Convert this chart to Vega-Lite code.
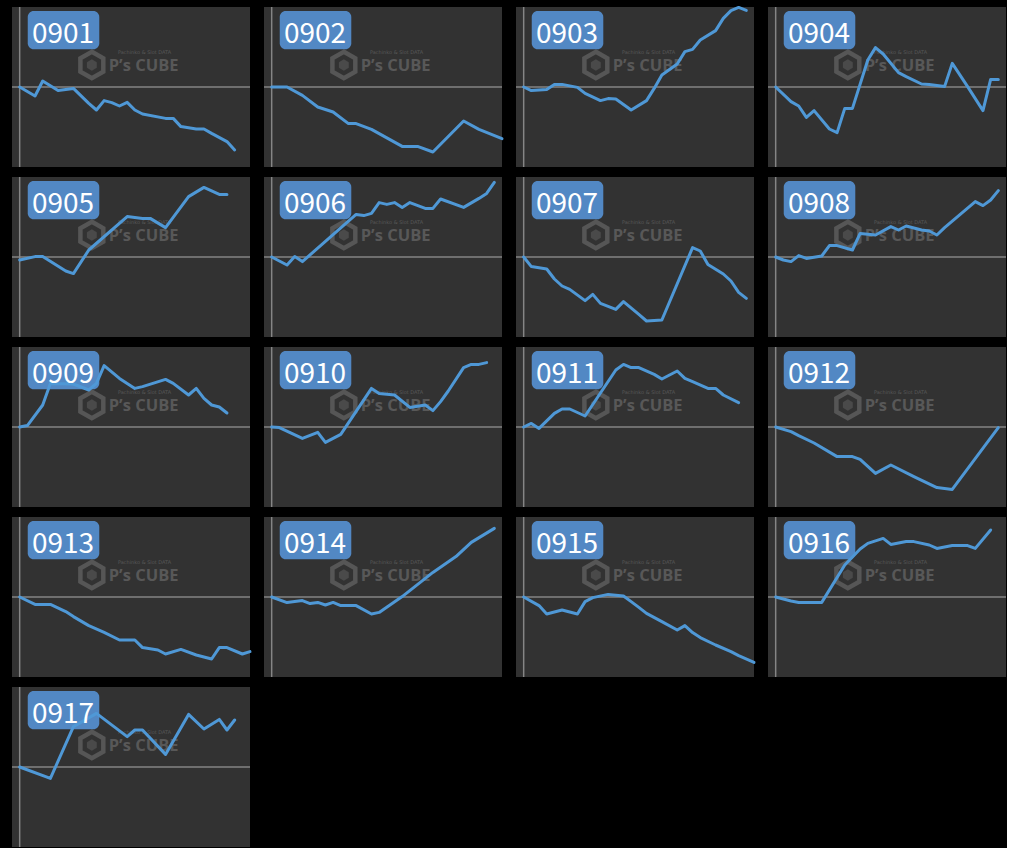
{
  "$schema": "https://vega.github.io/schema/vega-lite/v6.json",
  "background": "#000000",
  "padding": {"left": 11, "top": 4, "right": 0, "bottom": 0},
  "bounds": "flush",
  "datasets": {
    "series": [
      {"id":"0901","d":0,"v":0},{"id":"0901","d":2,"v":-450},{"id":"0901","d":3,"v":300},{"id":"0901","d":5,"v":-180},{"id":"0901","d":7,"v":-70},{"id":"0901","d":9,"v":-820},{"id":"0901","d":10,"v":-1150},{"id":"0901","d":11,"v":-680},{"id":"0901","d":12,"v":-780},{"id":"0901","d":13,"v":-950},{"id":"0901","d":14,"v":-770},{"id":"0901","d":15,"v":-1150},{"id":"0901","d":16,"v":-1350},{"id":"0901","d":19,"v":-1570},{"id":"0901","d":20,"v":-1570},{"id":"0901","d":21,"v":-1980},{"id":"0901","d":23,"v":-2100},{"id":"0901","d":24,"v":-2100},{"id":"0901","d":25,"v":-2320},{"id":"0901","d":27,"v":-2730},{"id":"0901","d":28,"v":-3150},
      {"id":"0902","d":0,"v":0},{"id":"0902","d":2,"v":0},{"id":"0902","d":4,"v":-420},{"id":"0902","d":6,"v":-1000},{"id":"0902","d":8,"v":-1250},{"id":"0902","d":10,"v":-1830},{"id":"0902","d":11,"v":-1830},{"id":"0902","d":13,"v":-2120},{"id":"0902","d":17,"v":-2970},{"id":"0902","d":19,"v":-2970},{"id":"0902","d":21,"v":-3250},{"id":"0902","d":25,"v":-1700},{"id":"0902","d":27,"v":-2120},{"id":"0902","d":30,"v":-2580},
      {"id":"0903","d":0,"v":0},{"id":"0903","d":1,"v":-180},{"id":"0903","d":3,"v":-120},{"id":"0903","d":4,"v":130},{"id":"0903","d":5,"v":130},{"id":"0903","d":7,"v":-20},{"id":"0903","d":8,"v":-320},{"id":"0903","d":10,"v":-680},{"id":"0903","d":11,"v":-580},{"id":"0903","d":12,"v":-600},{"id":"0903","d":14,"v":-1150},{"id":"0903","d":16,"v":-680},{"id":"0903","d":17,"v":-70},{"id":"0903","d":18,"v":600},{"id":"0903","d":20,"v":1150},{"id":"0903","d":21,"v":1770},{"id":"0903","d":22,"v":1880},{"id":"0903","d":23,"v":2350},{"id":"0903","d":25,"v":2820},{"id":"0903","d":26,"v":3430},{"id":"0903","d":27,"v":3820},{"id":"0903","d":28,"v":3980},{"id":"0903","d":29,"v":3830},
      {"id":"0904","d":0,"v":0},{"id":"0904","d":2,"v":-730},{"id":"0904","d":3,"v":-950},{"id":"0904","d":4,"v":-1520},{"id":"0904","d":5,"v":-1180},{"id":"0904","d":7,"v":-2100},{"id":"0904","d":8,"v":-2280},{"id":"0904","d":9,"v":-1070},{"id":"0904","d":10,"v":-1070},{"id":"0904","d":12,"v":1350},{"id":"0904","d":13,"v":1970},{"id":"0904","d":14,"v":1650},{"id":"0904","d":16,"v":720},{"id":"0904","d":17,"v":520},{"id":"0904","d":19,"v":150},{"id":"0904","d":20,"v":130},{"id":"0904","d":22,"v":20},{"id":"0904","d":23,"v":1180},{"id":"0904","d":25,"v":20},{"id":"0904","d":27,"v":-1180},{"id":"0904","d":28,"v":380},{"id":"0904","d":29,"v":380},
      {"id":"0905","d":0,"v":-150},{"id":"0905","d":2,"v":20},{"id":"0905","d":3,"v":20},{"id":"0905","d":6,"v":-700},{"id":"0905","d":7,"v":-830},{"id":"0905","d":9,"v":350},{"id":"0905","d":14,"v":2020},{"id":"0905","d":16,"v":1930},{"id":"0905","d":17,"v":1930},{"id":"0905","d":19,"v":1470},{"id":"0905","d":22,"v":3020},{"id":"0905","d":24,"v":3480},{"id":"0905","d":26,"v":3130},{"id":"0905","d":27,"v":3130},
      {"id":"0906","d":0,"v":0},{"id":"0906","d":2,"v":-400},{"id":"0906","d":3,"v":20},{"id":"0906","d":4,"v":-230},{"id":"0906","d":11,"v":2130},{"id":"0906","d":12,"v":2070},{"id":"0906","d":13,"v":2180},{"id":"0906","d":14,"v":2720},{"id":"0906","d":15,"v":2630},{"id":"0906","d":16,"v":2720},{"id":"0906","d":17,"v":2480},{"id":"0906","d":18,"v":2720},{"id":"0906","d":20,"v":2430},{"id":"0906","d":21,"v":2430},{"id":"0906","d":22,"v":2900},{"id":"0906","d":25,"v":2480},{"id":"0906","d":27,"v":2930},{"id":"0906","d":28,"v":3180},{"id":"0906","d":29,"v":3730},
      {"id":"0907","d":0,"v":0},{"id":"0907","d":1,"v":-480},{"id":"0907","d":3,"v":-600},{"id":"0907","d":4,"v":-1100},{"id":"0907","d":5,"v":-1450},{"id":"0907","d":6,"v":-1620},{"id":"0907","d":8,"v":-2180},{"id":"0907","d":9,"v":-1870},{"id":"0907","d":10,"v":-2320},{"id":"0907","d":12,"v":-2620},{"id":"0907","d":13,"v":-2230},{"id":"0907","d":15,"v":-2870},{"id":"0907","d":16,"v":-3200},{"id":"0907","d":18,"v":-3150},{"id":"0907","d":22,"v":470},{"id":"0907","d":23,"v":300},{"id":"0907","d":24,"v":-370},{"id":"0907","d":26,"v":-850},{"id":"0907","d":27,"v":-1200},{"id":"0907","d":28,"v":-1770},{"id":"0907","d":29,"v":-2070},
      {"id":"0908","d":0,"v":0},{"id":"0908","d":1,"v":-150},{"id":"0908","d":2,"v":-230},{"id":"0908","d":3,"v":70},{"id":"0908","d":4,"v":-70},{"id":"0908","d":6,"v":50},{"id":"0908","d":7,"v":570},{"id":"0908","d":8,"v":570},{"id":"0908","d":10,"v":350},{"id":"0908","d":11,"v":1180},{"id":"0908","d":13,"v":1100},{"id":"0908","d":15,"v":1520},{"id":"0908","d":16,"v":1350},{"id":"0908","d":17,"v":1550},{"id":"0908","d":19,"v":1350},{"id":"0908","d":20,"v":1300},{"id":"0908","d":21,"v":1100},{"id":"0908","d":22,"v":1470},{"id":"0908","d":26,"v":2770},{"id":"0908","d":27,"v":2570},{"id":"0908","d":28,"v":2850},{"id":"0908","d":29,"v":3320},
      {"id":"0909","d":0,"v":0},{"id":"0909","d":1,"v":70},{"id":"0909","d":3,"v":1100},{"id":"0909","d":4,"v":2180},{"id":"0909","d":7,"v":2150},{"id":"0909","d":9,"v":1850},{"id":"0909","d":10,"v":2180},{"id":"0909","d":11,"v":3070},{"id":"0909","d":13,"v":2430},{"id":"0909","d":15,"v":1930},{"id":"0909","d":16,"v":2020},{"id":"0909","d":19,"v":2380},{"id":"0909","d":20,"v":2180},{"id":"0909","d":22,"v":1600},{"id":"0909","d":23,"v":1930},{"id":"0909","d":24,"v":1430},{"id":"0909","d":25,"v":1100},{"id":"0909","d":26,"v":1000},{"id":"0909","d":27,"v":700},
      {"id":"0910","d":0,"v":0},{"id":"0910","d":1,"v":-30},{"id":"0910","d":4,"v":-570},{"id":"0910","d":6,"v":-270},{"id":"0910","d":7,"v":-770},{"id":"0910","d":9,"v":-370},{"id":"0910","d":13,"v":1930},{"id":"0910","d":14,"v":1680},{"id":"0910","d":16,"v":1600},{"id":"0910","d":18,"v":980},{"id":"0910","d":20,"v":1100},{"id":"0910","d":21,"v":820},{"id":"0910","d":22,"v":1270},{"id":"0910","d":23,"v":1800},{"id":"0910","d":25,"v":2970},{"id":"0910","d":26,"v":3130},{"id":"0910","d":27,"v":3130},{"id":"0910","d":28,"v":3220},
      {"id":"0911","d":0,"v":0},{"id":"0911","d":1,"v":180},{"id":"0911","d":2,"v":-70},{"id":"0911","d":4,"v":680},{"id":"0911","d":5,"v":900},{"id":"0911","d":6,"v":900},{"id":"0911","d":8,"v":550},{"id":"0911","d":12,"v":2850},{"id":"0911","d":13,"v":3130},{"id":"0911","d":14,"v":2970},{"id":"0911","d":15,"v":2970},{"id":"0911","d":17,"v":2630},{"id":"0911","d":18,"v":2400},{"id":"0911","d":20,"v":2800},{"id":"0911","d":21,"v":2430},{"id":"0911","d":22,"v":2270},{"id":"0911","d":24,"v":1930},{"id":"0911","d":25,"v":1930},{"id":"0911","d":26,"v":1600},{"id":"0911","d":28,"v":1220},
      {"id":"0912","d":0,"v":0},{"id":"0912","d":2,"v":-230},{"id":"0912","d":3,"v":-430},{"id":"0912","d":5,"v":-800},{"id":"0912","d":8,"v":-1480},{"id":"0912","d":10,"v":-1480},{"id":"0912","d":11,"v":-1620},{"id":"0912","d":13,"v":-2320},{"id":"0912","d":15,"v":-1900},{"id":"0912","d":18,"v":-2480},{"id":"0912","d":21,"v":-3030},{"id":"0912","d":23,"v":-3120},{"id":"0912","d":29,"v":-30},
      {"id":"0913","d":0,"v":0},{"id":"0913","d":2,"v":-370},{"id":"0913","d":4,"v":-370},{"id":"0913","d":6,"v":-730},{"id":"0913","d":7,"v":-980},{"id":"0913","d":9,"v":-1430},{"id":"0913","d":11,"v":-1770},{"id":"0913","d":13,"v":-2150},{"id":"0913","d":15,"v":-2150},{"id":"0913","d":16,"v":-2530},{"id":"0913","d":18,"v":-2650},{"id":"0913","d":19,"v":-2850},{"id":"0913","d":21,"v":-2620},{"id":"0913","d":23,"v":-2900},{"id":"0913","d":25,"v":-3100},{"id":"0913","d":26,"v":-2530},{"id":"0913","d":27,"v":-2530},{"id":"0913","d":29,"v":-2850},{"id":"0913","d":30,"v":-2730},
      {"id":"0914","d":0,"v":0},{"id":"0914","d":2,"v":-280},{"id":"0914","d":4,"v":-180},{"id":"0914","d":5,"v":-330},{"id":"0914","d":6,"v":-270},{"id":"0914","d":7,"v":-400},{"id":"0914","d":8,"v":-270},{"id":"0914","d":9,"v":-430},{"id":"0914","d":11,"v":-430},{"id":"0914","d":13,"v":-850},{"id":"0914","d":14,"v":-770},{"id":"0914","d":17,"v":20},{"id":"0914","d":21,"v":1230},{"id":"0914","d":24,"v":2020},{"id":"0914","d":26,"v":2730},{"id":"0914","d":29,"v":3430},
      {"id":"0915","d":0,"v":0},{"id":"0915","d":2,"v":-430},{"id":"0915","d":3,"v":-850},{"id":"0915","d":5,"v":-650},{"id":"0915","d":7,"v":-850},{"id":"0915","d":8,"v":-230},{"id":"0915","d":9,"v":-30},{"id":"0915","d":11,"v":130},{"id":"0915","d":13,"v":50},{"id":"0915","d":14,"v":-230},{"id":"0915","d":15,"v":-520},{"id":"0915","d":16,"v":-820},{"id":"0915","d":18,"v":-1230},{"id":"0915","d":20,"v":-1650},{"id":"0915","d":21,"v":-1430},{"id":"0915","d":22,"v":-1780},{"id":"0915","d":23,"v":-2030},{"id":"0915","d":25,"v":-2400},{"id":"0915","d":27,"v":-2730},{"id":"0915","d":28,"v":-2930},{"id":"0915","d":30,"v":-3270},
      {"id":"0916","d":0,"v":0},{"id":"0916","d":2,"v":-200},{"id":"0916","d":3,"v":-270},{"id":"0916","d":6,"v":-270},{"id":"0916","d":9,"v":1600},{"id":"0916","d":11,"v":2400},{"id":"0916","d":12,"v":2680},{"id":"0916","d":14,"v":2930},{"id":"0916","d":15,"v":2630},{"id":"0916","d":17,"v":2770},{"id":"0916","d":18,"v":2770},{"id":"0916","d":20,"v":2600},{"id":"0916","d":21,"v":2430},{"id":"0916","d":23,"v":2570},{"id":"0916","d":25,"v":2570},{"id":"0916","d":26,"v":2430},{"id":"0916","d":28,"v":3350},
      {"id":"0917","d":0,"v":0},{"id":"0917","d":4,"v":-570},{"id":"0917","d":7,"v":2020},{"id":"0917","d":10,"v":2680},{"id":"0917","d":14,"v":1520},{"id":"0917","d":15,"v":1850},{"id":"0917","d":16,"v":1850},{"id":"0917","d":19,"v":630},{"id":"0917","d":22,"v":2630},{"id":"0917","d":24,"v":1900},{"id":"0917","d":26,"v":2380},{"id":"0917","d":27,"v":1850},{"id":"0917","d":28,"v":2350}
    ]
  },
  "data": {"name": "series"},
  "facet": {"field": "id", "type": "nominal", "title": null, "header": {"labels": false, "title": null, "labelPadding": 0, "titlePadding": 0, "labelFontSize": 1}},
  "columns": 4,
  "spacing": {"row": 10, "column": 14},
  "spec": {
    "width": 238,
    "height": 160,
    "layer": [
      {
        "transform": [{"aggregate": [{"op": "count", "as": "n"}], "groupby": ["id"]}],
        "layer": [
          {
            "mark": {"type": "point", "shape": "M0,-1L0.866,-0.5L0.866,0.5L0,1L-0.866,0.5L-0.866,-0.5Z", "filled": false, "stroke": "#565656", "strokeWidth": 4.5, "size": 700, "opacity": 1},
            "encoding": {
              "x": {"datum": 9.4, "type": "quantitative", "scale": {"domain": [-1, 30], "nice": false, "zero": false}, "axis": null},
              "y": {"datum": 1100, "type": "quantitative", "scale": {"domain": [-4000, 4000], "nice": false, "zero": false}, "axis": null}
            }
          },
          {
            "mark": {"type": "point", "shape": "M0,-1L0.866,-0.5L0.866,0.5L0,1L-0.866,0.5L-0.866,-0.5Z", "filled": true, "fill": "#4a4a4a", "size": 130, "opacity": 1},
            "encoding": {
              "x": {"datum": 9.4, "type": "quantitative", "scale": {"domain": [-1, 30], "nice": false, "zero": false}, "axis": null},
              "y": {"datum": 1100, "type": "quantitative", "scale": {"domain": [-4000, 4000], "nice": false, "zero": false}, "axis": null}
            }
          },
          {
            "mark": {"type": "text", "text": "P’s CUBE", "font": "Open Sans", "fontWeight": "bold", "fontSize": 16.5, "color": "#585858", "align": "left", "baseline": "alphabetic"},
            "encoding": {
              "x": {"datum": 11.6, "type": "quantitative", "scale": {"domain": [-1, 30], "nice": false, "zero": false}, "axis": null},
              "y": {"datum": 800, "type": "quantitative", "scale": {"domain": [-4000, 4000], "nice": false, "zero": false}, "axis": null}
            }
          },
          {
            "mark": {"type": "text", "text": "Pachinko & Slot DATA", "font": "DejaVu Sans", "fontSize": 5, "color": "#585858", "align": "left", "baseline": "alphabetic"},
            "encoding": {
              "x": {"datum": 12.8, "type": "quantitative", "scale": {"domain": [-1, 30], "nice": false, "zero": false}, "axis": null},
              "y": {"datum": 1650, "type": "quantitative", "scale": {"domain": [-4000, 4000], "nice": false, "zero": false}, "axis": null}
            }
          },
          {
            "mark": {"type": "rule", "color": "#858585", "strokeWidth": 1.5},
            "encoding": {
              "y": {"datum": 0, "type": "quantitative", "scale": {"domain": [-4000, 4000], "nice": false, "zero": false}, "axis": null}
            }
          },
          {
            "mark": {"type": "rule", "color": "#858585", "strokeWidth": 1.5},
            "encoding": {
              "x": {"datum": 0, "type": "quantitative", "scale": {"domain": [-1, 30], "nice": false, "zero": false}, "axis": null}
            }
          },
          {
            "mark": {"type": "rect", "fill": "#5288c4", "cornerRadius": 6},
            "encoding": {
              "x": {"datum": 1.05, "type": "quantitative", "scale": {"domain": [-1, 30], "nice": false, "zero": false}, "axis": null},
              "x2": {"datum": 10.37},
              "y": {"datum": 3800, "type": "quantitative", "scale": {"domain": [-4000, 4000], "nice": false, "zero": false}, "axis": null},
              "y2": {"datum": 1885}
            }
          }
        ]
      },
      {
        "mark": {"type": "line", "color": "#4f98d6", "strokeWidth": 3, "strokeCap": "round", "strokeJoin": "round"},
        "encoding": {
          "x": {"field": "d", "type": "quantitative", "scale": {"domain": [-1, 30], "nice": false, "zero": false}, "axis": null},
          "y": {"field": "v", "type": "quantitative", "scale": {"domain": [-4000, 4000], "nice": false, "zero": false}, "axis": null}
        }
      },
      {
        "transform": [{"aggregate": [{"op": "count", "as": "n"}], "groupby": ["id"]}],
        "mark": {"type": "text", "font": "Noto Sans CJK JP", "fontSize": 28, "color": "#ffffff", "align": "center", "baseline": "alphabetic"},
        "encoding": {
          "x": {"datum": 5.64, "type": "quantitative", "scale": {"domain": [-1, 30], "nice": false, "zero": false}, "axis": null},
          "y": {"datum": 2217, "type": "quantitative", "scale": {"domain": [-4000, 4000], "nice": false, "zero": false}, "axis": null},
          "text": {"field": "id", "type": "nominal"}
        }
      }
    ]
  },
  "config": {
    "view": {"fill": "#323232", "stroke": null}
  }
}
